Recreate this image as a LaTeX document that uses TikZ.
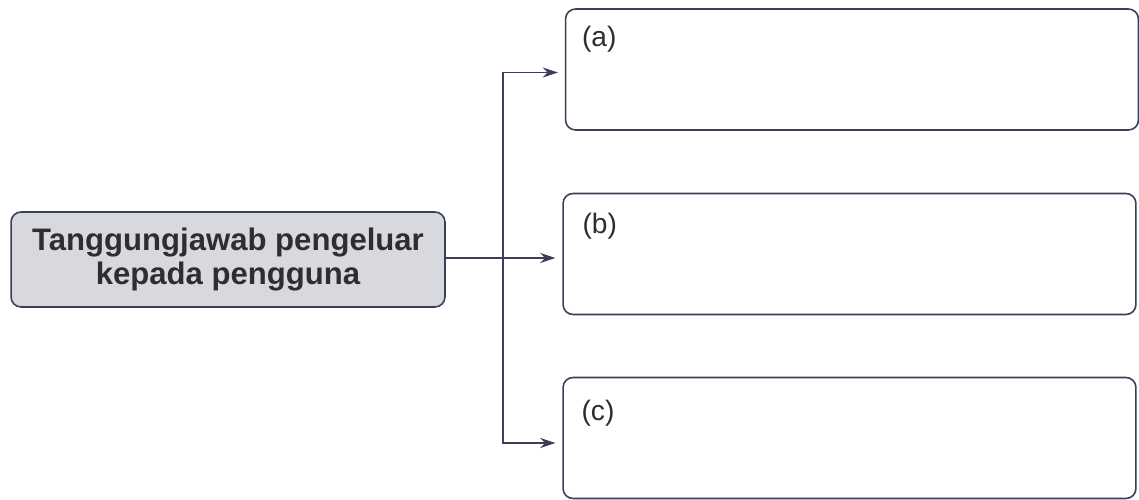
\documentclass[tikz,border=0pt]{standalone}
\usepackage{fontspec}
\setmainfont{Liberation Sans}
\usetikzlibrary{arrows.meta,positioning}

\definecolor{linecol}{RGB}{58,62,88}
\definecolor{boxgray}{RGB}{216,217,223}
\definecolor{textcol}{RGB}{45,45,50}

\tikzset{
  mainbox/.style={draw=linecol, line width=0.9pt, rounded corners=0.2cm, fill=boxgray,
    minimum width=8.68cm, minimum height=1.9cm, align=center, text=textcol,
    font=\fontsize{17.7}{19}\selectfont\bfseries},
  answerbox/.style={draw=linecol, line width=0.9pt, rounded corners=0.2cm,
    minimum width=11.46cm, minimum height=2.42cm},
  tag/.style={inner sep=0pt, text=textcol, font=\fontsize{16}{18}\selectfont},
  link/.style={draw=linecol, line width=0.8pt, ->, shorten >=0.14cm}
}

\begin{document}
\begin{tikzpicture}[x=0.02cm,y=-0.02cm,>={Stealth[length=0.3cm,width=0.2cm]}]
    \useasboundingbox (0,0) rectangle (1139,500);

    % left box
    \node[mainbox] (resp) at (228,259.5) {Tanggungjawab pengeluar\\kepada pengguna};

    % the three answer boxes
    \node[answerbox] (a) at (852,69.5) {};
    \node[answerbox] (b) at (849.5,254) {};
    \node[answerbox] (c) at (849.5,438) {};
    \node[tag, below right=0.36cm and 0.34cm of a.north west] (ta) {(a)};
    \node[tag, below right=0.4cm and 0.4cm of b.north west] (tb) {(b)};
    \node[tag, below right=0.46cm and 0.38cm of c.north west] (tc) {(c)};

    % connectors
    \coordinate (fork) at (503,258);
    \draw[link] (fork -| resp.east) -- (fork -| b.west);
    \draw[link] (fork) |- ([yshift=-0.06cm]a.west);
    \draw[link] (fork) |- ([yshift=-0.1cm]c.west);
\end{tikzpicture}
\end{document}
